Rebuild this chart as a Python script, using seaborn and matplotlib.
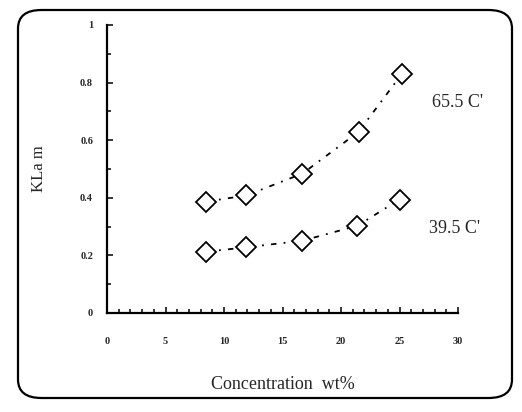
import matplotlib
matplotlib.use('Agg')
import matplotlib.pyplot as plt
from matplotlib.patches import FancyBboxPatch
from matplotlib.ticker import MultipleLocator
import seaborn as sns
import pandas as pd

sns.set_theme(style='white')
plt.rcParams['font.family'] = ['Liberation Serif', 'DejaVu Serif']

# data
conc = [8.5, 11.9, 16.7, 21.5, 25.2]
kla_65 = [0.387, 0.408, 0.484, 0.629, 0.83]
conc_39 = [8.5, 11.9, 16.7, 21.4, 25.0]
kla_39 = [0.213, 0.228, 0.251, 0.303, 0.394]
labels = ["65.5 C'", "39.5 C'"]
xticks = [0, 5, 10, 15, 20, 25, 30]
yticks = [0, 0.2, 0.4, 0.6, 0.8, 1]
ytick_labels = ['0', '0.2', '0.4', '0.6', '0.8', '1']

df = pd.concat([
    pd.DataFrame({'conc': conc, 'kla': kla_65, 'temp': labels[0]}),
    pd.DataFrame({'conc': conc_39, 'kla': kla_39, 'temp': labels[1]}),
])

fig = plt.figure(figsize=(5.22, 4.12), dpi=100)
fig.patch.set_facecolor('white')

# rounded frame around the whole figure
frame = FancyBboxPatch((18 / 522, 14 / 412), 494 / 522, 388 / 412,
                       boxstyle='round,pad=0,rounding_size=0.045',
                       transform=fig.transFigure, fill=False,
                       edgecolor='black', linewidth=1.6)
fig.patches.append(frame)

ax = fig.add_axes([107 / 522, 99 / 412, 351 / 522, 288 / 412])
ax.set_facecolor('none')

for t in labels:
    sub = df[df.temp == t]
    sns.lineplot(data=sub, x='conc', y='kla', ax=ax, color='black',
                 linestyle=(0, (3, 4, 1, 4)), linewidth=1.3,
                 marker='D', markersize=10, markerfacecolor='white',
                 markeredgecolor='black', markeredgewidth=1.3)

ax.set_xlim(0, 30)
ax.set_ylim(0, 1)
ax.set_xticks(xticks)
ax.set_yticks(yticks, ytick_labels)
ax.xaxis.set_minor_locator(MultipleLocator(1))
ax.yaxis.set_minor_locator(MultipleLocator(0.1))

for s in ['top', 'right']:
    ax.spines[s].set_visible(False)
for s in ['left', 'bottom']:
    ax.spines[s].set_color('black')
    ax.spines[s].set_linewidth(1.6)

ax.tick_params(which='both', direction='in', color='black', width=1.1,
               bottom=True, left=True)
ax.tick_params(which='major', length=4, labelsize=7.5)
ax.tick_params(axis='x', which='major', pad=17)
ax.tick_params(axis='y', which='major', pad=10)
ax.tick_params(which='minor', length=3)
for lab in ax.get_xticklabels() + ax.get_yticklabels():
    lab.set_fontweight('bold')

ax.set_xlabel('Concentration  wt%', fontsize=13, labelpad=22)
ax.set_ylabel('KLa m', fontsize=12, labelpad=24)

ax.text(27.8, kla_65[-1] - 0.1, labels[0], fontsize=13, va='center')
ax.text(27.5, kla_39[-1] - 0.1, labels[1], fontsize=13, va='center')

fig.savefig('out.png', dpi=100)
